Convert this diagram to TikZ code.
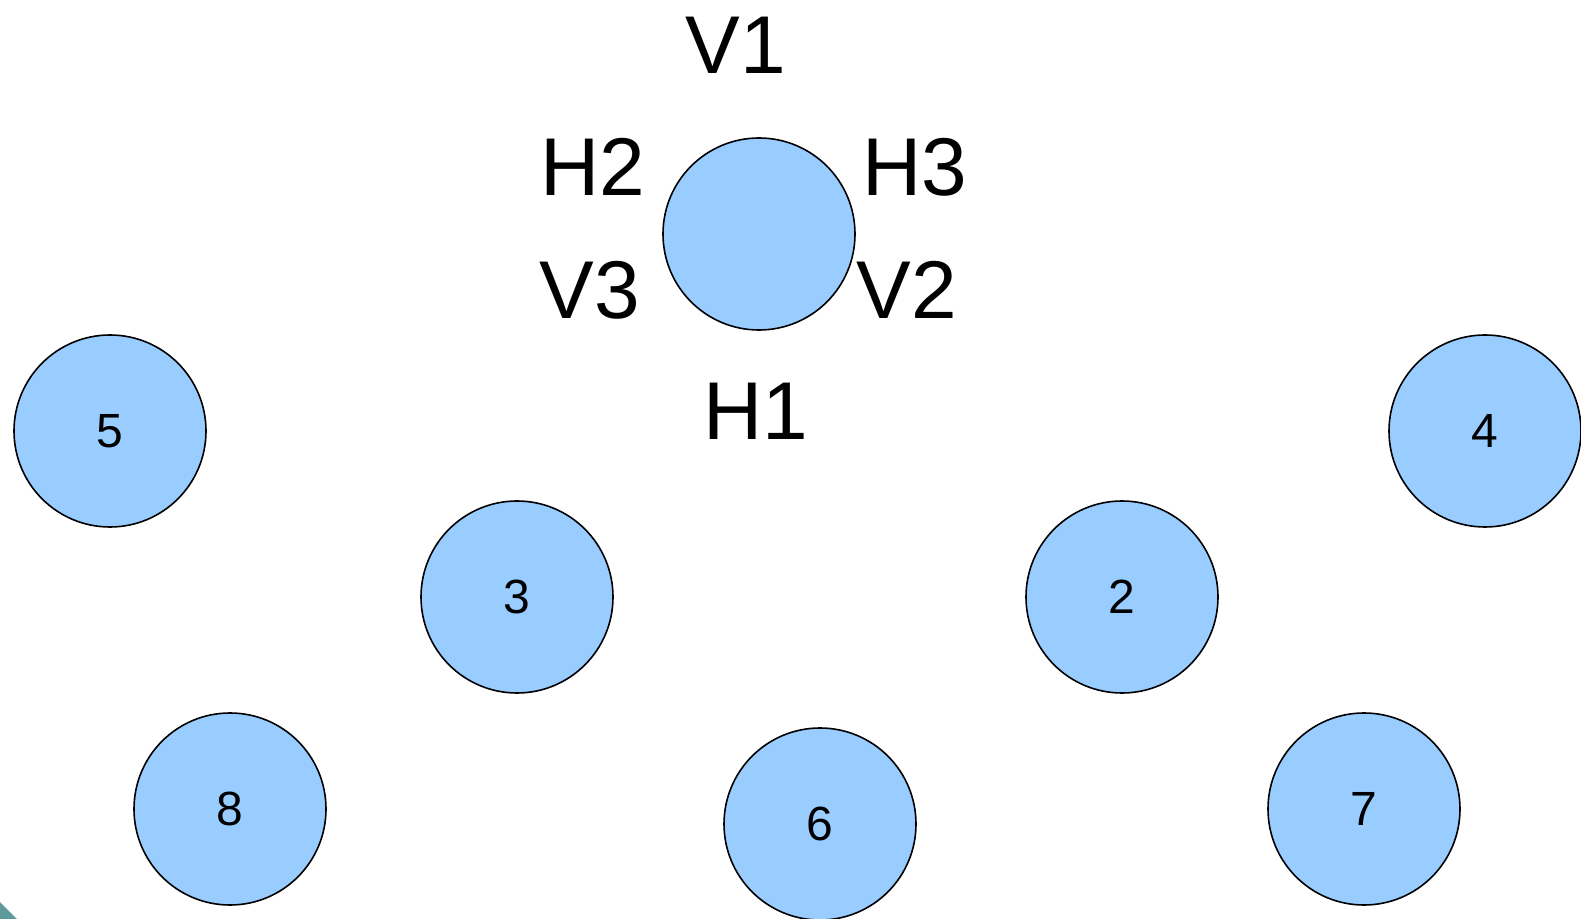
\documentclass[tikz,border=0pt]{standalone}
\usepackage{fontspec}
\setmainfont{Liberation Sans}
\usepackage{tikz}
\usetikzlibrary{positioning}
\usepackage{color}
\definecolor{cell_blue}{RGB}{153,204,255}
\definecolor{corner_teal}{RGB}{94,154,156}

\begin{document}
\begin{tikzpicture}[x=0.5pt, y=-0.5pt,
		cell/.style={draw, circle, line width=0.8pt, fill=cell_blue, minimum size=96pt, inner sep=0pt, font=\fontsize{24pt}{26pt}\selectfont},
		side/.style={inner sep=0pt, font=\fontsize{41pt}{43pt}\selectfont}]
			\useasboundingbox (0,0) rectangle (1581,919);
			% --- corner mark ---
			\fill [corner_teal] (0,902) -- (17,919) -- (0,919) -- cycle;
			% --- centre cell and its sides ---
			\node [cell] (centre) at (759,234) {};
			\node [side] (V1) at (736,45) {V1};
			\node [side] (H2) at (593,167) {H2};
			\node [side] (H3) at (915,167) {H3};
			\node [side] (V3) at (590,290) {V3};
			\node [side] (V2) at (907,290) {V2};
			\node [side] (H1) at (756,411) {H1};
			% --- numbered cells ---
			\node [cell] (cell5) at (110,431) {5};
			\node [cell] (cell4) at (1485,431) {4};
			\node [cell] (cell3) at (517,597) {3};
			\node [cell] (cell2) at (1122,597) {2};
			\node [cell] (cell8) at (230,809) {8};
			\node [cell] (cell6) at (820,824) {6};
			\node [cell] (cell7) at (1364,809) {7};
		\end{tikzpicture}
\end{document}
